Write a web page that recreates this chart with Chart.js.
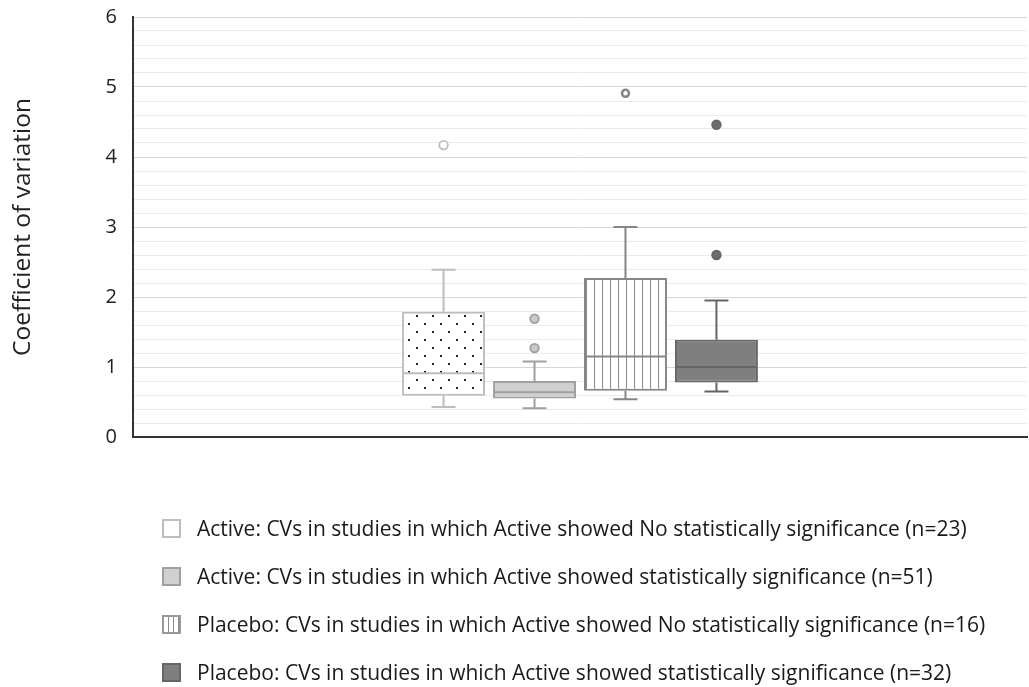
<!DOCTYPE html>
<html>
<head>
<meta charset="utf-8">
<script src="https://cdn.jsdelivr.net/npm/chart.js@4"></script>
<style>
  html, body { margin: 0; padding: 0; background: #fff; }
  #wrap { position: relative; width: 1029px; height: 687px; }
  #legend { position: absolute; left: 162px; top: 0; font-family: "Open Sans", sans-serif; font-size: 21px; color: #1a1a1a; }
  .item { position: absolute; left: 0; height: 28px; display: flex; align-items: center; white-space: nowrap; }
  .sw { width: 15px; height: 15px; border: 2px solid; margin-right: 16px; }
</style>
</head>
<body>
<div id="wrap">
  <canvas id="boxChart" width="1029" height="687"></canvas>
  <div id="legend"></div>
</div>
<script>
// box plot values
const seriesNames = [
    'Active: CVs in studies in which Active showed No statistically significance (n=23)',
    'Active: CVs in studies in which Active showed statistically significance (n=51)',
    'Placebo: CVs in studies in which Active showed No statistically significance (n=16)',
    'Placebo: CVs in studies in which Active showed statistically significance (n=32)'
];
const whiskerLow = [0.43, 0.41, 0.54, 0.65];
const q1 = [0.59, 0.55, 0.66, 0.78];
const median = [0.91, 0.64, 1.15, 1.0];
const q3 = [1.79, 0.80, 2.27, 1.39];
const whiskerHigh = [2.39, 1.08, 3.0, 1.95];
const outliers = [[4.17], [1.69, 1.27], [4.91], [4.46, 2.6]];
const yTickLabels = ['0', '1', '2', '3', '4', '5', '6'];

const lineColors = ['#bdbdbd', '#a0a0a0', '#858585', '#666666'];
const outlierFill = ['#ffffff', '#c9c9c9', '#ffffff', '#6c6c6c'];

function makePattern(kind) {
    const c = document.createElement('canvas');
    const g = c.getContext('2d');
    if (kind === 'dots') {
        c.width = 16; c.height = 16;
        g.fillStyle = '#fff'; g.fillRect(0, 0, 16, 16);
        g.fillStyle = '#222';
        g.fillRect(0, 11, 2, 2);
        g.fillRect(8, 3, 2, 2);
    } else {
        c.width = 8; c.height = 8;
        g.fillStyle = '#fff'; g.fillRect(0, 0, 8, 8);
        g.fillStyle = '#8a8a8a';
        g.fillRect(2, 0, 1, 8);
    }
    return g.createPattern(c, 'repeat');
}

const fills = [makePattern('dots'), '#d0d0d0', makePattern('lines'), '#7f7f7f'];

const boxExtras = {
    id: 'boxExtras',
    afterDatasetsDraw(chart) {
        const ctx = chart.ctx;
        const y = chart.scales.y;
        chart.data.datasets.forEach((ds, i) => {
            const bar = chart.getDatasetMeta(i).data[0];
            const x = bar.x;
            const half = bar.width / 2;
            ctx.save();
            ctx.strokeStyle = lineColors[i];
            ctx.lineWidth = 2;
            ctx.beginPath();
            // median
            ctx.moveTo(x - half + 1, y.getPixelForValue(median[i]));
            ctx.lineTo(x + half - 1, y.getPixelForValue(median[i]));
            // upper whisker
            ctx.moveTo(x, y.getPixelForValue(q3[i]));
            ctx.lineTo(x, y.getPixelForValue(whiskerHigh[i]));
            ctx.moveTo(x - 12, y.getPixelForValue(whiskerHigh[i]));
            ctx.lineTo(x + 12, y.getPixelForValue(whiskerHigh[i]));
            // lower whisker
            ctx.moveTo(x, y.getPixelForValue(q1[i]));
            ctx.lineTo(x, y.getPixelForValue(whiskerLow[i]));
            ctx.moveTo(x - 12, y.getPixelForValue(whiskerLow[i]));
            ctx.lineTo(x + 12, y.getPixelForValue(whiskerLow[i]));
            ctx.stroke();
            outliers[i].forEach(v => {
                ctx.beginPath();
                ctx.arc(x, y.getPixelForValue(v), i === 2 ? 3.5 : 4.3, 0, Math.PI * 2);
                ctx.fillStyle = outlierFill[i];
                ctx.fill();
                ctx.lineWidth = i === 2 ? 2.5 : 1.8;
                ctx.stroke();
            });
            ctx.restore();
        });
    }
};

const ctx = document.getElementById('boxChart').getContext('2d');
const boxChart = new Chart(ctx, {
    type: 'bar',
    data: {
        labels: [''],
        datasets: seriesNames.map((name, i) => ({
            label: name,
            data: [[q1[i], q3[i]]],
            backgroundColor: fills[i],
            borderColor: lineColors[i],
            borderWidth: 2,
            borderSkipped: false,
            categoryPercentage: 0.407,
            barPercentage: 0.912
        }))
    },
    options: {
        responsive: false,
        animation: false,
        layout: { padding: { top: 17, right: 2, bottom: 250, left: 0 } },
        plugins: {
            legend: { display: false },
            tooltip: { enabled: false }
        },
        scales: {
            x: {
                ticks: { display: false },
                grid: { display: false },
                border: { display: true, color: '#333', width: 2 },
                afterFit: scale => { scale.height = 0; }
            },
            y: {
                min: 0,
                max: 6,
                ticks: {
                    stepSize: 0.2,
                    autoSkip: false,
                    padding: 16,
                    color: '#222',
                    font: { family: 'Open Sans', size: 20 },
                    callback: function (value) {
                        const r = Math.round(value);
                        return Math.abs(value - r) < 1e-6 ? yTickLabels[r] : '';
                    }
                },
                grid: {
                    drawTicks: false,
                    lineWidth: 1,
                    color: c => {
                        const v = c.tick.value;
                        return Math.abs(v - Math.round(v)) < 1e-6 ? '#d6d6d6' : '#ebebeb';
                    }
                },
                border: { display: true, color: '#333', width: 2 },
                title: {
                    display: true,
                    text: 'Coefficient of variation',
                    color: '#222',
                    font: { family: 'Open Sans', size: 24.5 },
                    padding: { top: 8, bottom: 0 }
                },
                afterFit: scale => {
                    scale.width = 133;
                    scale.paddingTop = 0;
                    scale.paddingBottom = 0;
                }
            }
        }
    },
    plugins: [boxExtras]
});

// html legend below the plot
const legendSwatch = [
    'background:#fff radial-gradient(circle at 9px 5px, #333 1px, transparent 1.3px), radial-gradient(circle at 4px 10px, #333 1px, transparent 1.3px);border-color:#bdbdbd',
    'background:#d0d0d0;border-color:#a0a0a0',
    'background:repeating-linear-gradient(90deg, #fff 0 4px, #8a8a8a 4px 5px);border-color:#999',
    'background:#7f7f7f;border-color:#666'
];
const legendRowCentres = [528, 576, 624, 672];
const legendEl = document.getElementById('legend');
seriesNames.forEach((name, i) => {
    const item = document.createElement('div');
    item.className = 'item';
    item.style.top = (legendRowCentres[i] - 14) + 'px';
    item.innerHTML = '<span class="sw" style="' + legendSwatch[i] + '"></span><span></span>';
    item.lastChild.textContent = name;
    legendEl.appendChild(item);
});
</script>
</body>
</html>
